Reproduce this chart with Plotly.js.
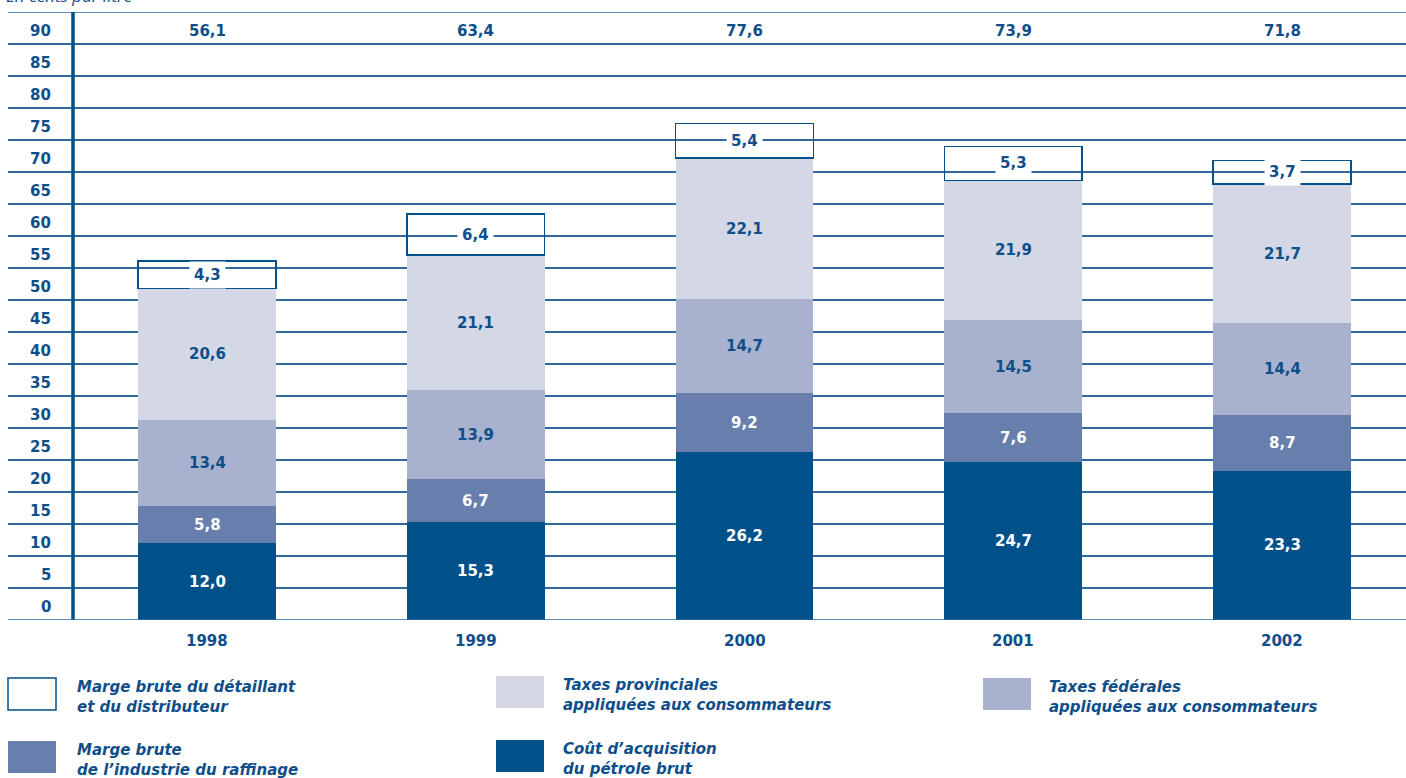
<!DOCTYPE html>
<html>
<head>
<meta charset="utf-8">
<script src="https://cdn.plot.ly/plotly-3.0.1.min.js"></script>
<style>html,body{margin:0;padding:0;background:#fff;}#chart{width:1406px;height:778px;}</style>
</head>
<body>
<div id="chart"></div>
<script>
// ---- data ----
const years = ['1998', '1999', '2000', '2001', '2002'];
const crudeCost = [12.0, 15.3, 26.2, 24.7, 23.3];
const refiningMargin = [5.8, 6.7, 9.2, 7.6, 8.7];
const federalTaxes = [13.4, 13.9, 14.7, 14.5, 14.4];
const provincialTaxes = [20.6, 21.1, 22.1, 21.9, 21.7];
const retailMargin = [4.3, 6.4, 5.4, 5.3, 3.7];
const totals = [56.1, 63.4, 77.6, 73.9, 71.8];
const yTickValues = [0, 5, 10, 15, 20, 25, 30, 35, 40, 45, 50, 55, 60, 65, 70, 75, 80, 85, 90];
const unitLabel = 'En cents par litre';
const seriesNames = [
  'Marge brute du détaillant<br>et du distributeur',
  'Taxes provinciales<br>appliquées aux consommateurs',
  'Taxes fédérales<br>appliquées aux consommateurs',
  'Marge brute<br>de l’industrie du raffinage',
  'Coût d’acquisition<br>du pétrole brut'
];

// ---- style ----
const C_CRUDE = '#00518a', C_REF = '#687ead', C_FED = '#a8b1ce', C_PROV = '#d3d7e6';
const C_TEXT = '#0e4e8a', C_GRID = '#2f69a0', C_AXIS = '#00508a';
const FONT = 'DejaVu Sans, Open Sans, sans-serif';
const FS = 15;
const W = 1406, H = 778, L = 8, R = 0, T = 12, B = 158;
const pw = W - L - R, ph = H - T - B;
const px2x = px => (px - L) / pw;
const py2y = py => (H - B - py) / ph;
const fmt = v => v.toFixed(1).replace('.', ',');
const xs = years.map((_, i) => i);
const BW = 0.513;

function barTrace(vals, color, name, line) {
  return {
    type: 'bar', x: xs, y: vals, name: name, width: BW,
    marker: {color: color, line: line || {width: 0}},
    hoverinfo: 'skip', showlegend: false
  };
}
const traces = [
  barTrace(crudeCost, C_CRUDE, 'crude'),
  barTrace(refiningMargin, C_REF, 'refining'),
  barTrace(federalTaxes, C_FED, 'federal'),
  barTrace(provincialTaxes, C_PROV, 'provincial'),
  barTrace(retailMargin, 'rgba(255,255,255,0)', 'retail', {color: C_AXIS, width: 1.5})
];

const annotations = [];
const boldFont = (size, color) => ({family: FONT, size: size, color: color, weight: 700});

// segment labels
const stackSeries = [
  [crudeCost, '#ffffff', null],
  [refiningMargin, '#ffffff', null],
  [federalTaxes, C_TEXT, null],
  [provincialTaxes, C_TEXT, null],
  [retailMargin, C_TEXT, '#ffffff']
];
xs.forEach(i => {
  let base = 0;
  stackSeries.forEach(([vals, col, bg]) => {
    const v = vals[i];
    const a = {x: i, y: base + v / 2, xref: 'x', yref: 'y', text: fmt(v), showarrow: false,
      font: boldFont(FS, col), xanchor: 'center', yanchor: 'middle'};
    if (bg) { a.bgcolor = bg; a.borderpad = 4; }
    annotations.push(a);
    base += v;
  });
  // totals in top row
  annotations.push({x: i, y: 92, xref: 'x', yref: 'y', text: fmt(totals[i]), showarrow: false,
    font: boldFont(FS, C_TEXT), xanchor: 'center', yanchor: 'middle'});
  // year labels
  annotations.push({x: i, y: py2y(641), xref: 'x', yref: 'paper', text: years[i], showarrow: false,
    font: boldFont(FS, C_TEXT), xanchor: 'center', yanchor: 'middle'});
});
// y tick labels (placed in the band above each gridline)
yTickValues.forEach(v => {
  annotations.push({x: px2x(53), y: v + 2, xref: 'paper', yref: 'y', text: String(v), showarrow: false,
    font: boldFont(FS, C_TEXT), xanchor: 'right', yanchor: 'middle'});
});
// unit label (cut at top)
annotations.push({x: px2x(4), y: py2y(9), xref: 'paper', yref: 'paper', text: unitLabel, showarrow: false,
  font: {family: 'Open Sans, sans-serif', size: 17, color: C_TEXT, style: 'italic'}, xanchor: 'left', yanchor: 'bottom'});

// legend
const shapes = [];
const legendItems = [
  {sx: 8, sy: 678, tx: 75, fill: '#ffffff', line: C_AXIS},
  {sx: 496, sy: 676, tx: 561, fill: C_PROV},
  {sx: 983, sy: 678, tx: 1047, fill: C_FED},
  {sx: 8, sy: 741, tx: 75, fill: C_REF},
  {sx: 496, sy: 740, tx: 561, fill: C_CRUDE}
];
legendItems.forEach((it, k) => {
  shapes.push({type: 'rect', xref: 'paper', yref: 'paper',
    x0: px2x(it.sx), x1: px2x(it.sx + 48), y0: py2y(it.sy), y1: py2y(it.sy + 32),
    fillcolor: it.fill, line: it.line ? {color: it.line, width: 1.5} : {width: 0}, layer: 'above'});
  annotations.push({x: px2x(it.tx), y: py2y(it.sy - 2), xref: 'paper', yref: 'paper',
    text: seriesNames[k], showarrow: false, align: 'left', xanchor: 'left', yanchor: 'top',
    font: {family: FONT, size: FS, color: C_TEXT, weight: 700, style: 'italic'}});
});
// thick vertical axis line
shapes.push({type: 'line', xref: 'paper', yref: 'paper', x0: px2x(73), x1: px2x(73), y0: 0, y1: 1,
  line: {color: C_AXIS, width: 3.5}, layer: 'above'});
// baseline and top line
shapes.push({type: 'line', xref: 'paper', yref: 'y', x0: 0, x1: 1, y0: 0, y1: 0, line: {color: C_GRID, width: 1.6}, layer: 'above'});
shapes.push({type: 'line', xref: 'paper', yref: 'y', x0: 0, x1: 1, y0: 95, y1: 95, line: {color: C_GRID, width: 1.6}, layer: 'below'});

const xr0 = -(207 - L) / 268.75;
const layout = {
  width: W, height: H,
  margin: {l: L, r: R, t: T, b: B, pad: 0},
  paper_bgcolor: '#ffffff', plot_bgcolor: '#ffffff',
  barmode: 'stack', bargap: 0,
  showlegend: false,
  xaxis: {range: [xr0, xr0 + pw / 268.75], showgrid: false, zeroline: false, showticklabels: false,
    ticks: '', showline: false, fixedrange: true},
  yaxis: {range: [0, 95], tickvals: yTickValues.concat([95]), showticklabels: false, ticks: '',
    showgrid: true, gridcolor: C_GRID, gridwidth: 1.6, zeroline: false, showline: false, fixedrange: true},
  annotations: annotations,
  shapes: shapes,
  font: {family: FONT, color: C_TEXT}
};
Plotly.newPlot('chart', traces, layout, {displayModeBar: false, staticPlot: true});
</script>
</body>
</html>
